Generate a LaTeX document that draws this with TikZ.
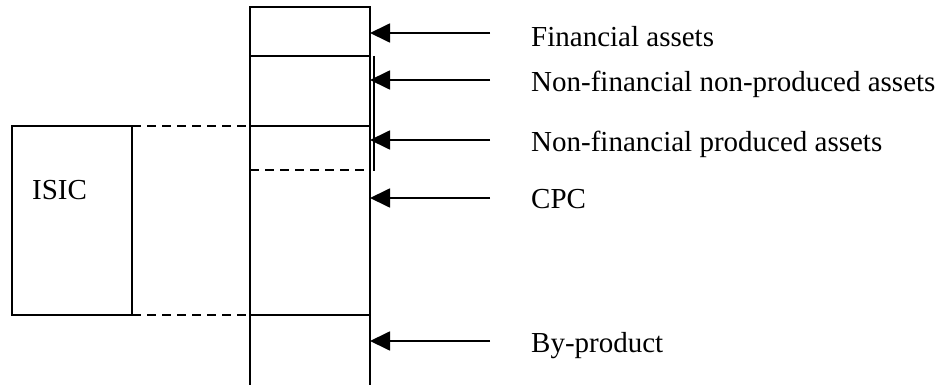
\documentclass[tikz,border=0pt]{standalone}
\usepackage{fontspec}
\setmainfont{Liberation Serif}
\usetikzlibrary{arrows.meta}
\begin{document}
\begin{tikzpicture}[x=1pt,y=-1pt,
  ln/.style={line width=1.8pt},
  dsh/.style={line width=1.8pt,dash pattern=on 9pt off 6pt},
  arr/.style={line width=1.8pt,-{Triangle[length=20pt,width=19pt]}},
  lbl/.style={anchor=base west,inner sep=0pt,font=\fontsize{29}{34}\selectfont}]
\useasboundingbox (0,0) rectangle (938,385);
% column
\coordinate (ctl) at (250,7);
\coordinate (ctr) at (370,7);
\coordinate (cbl) at (250,386);
\coordinate (cbr) at (370,386);
\draw[ln] (cbl) -- (ctl) -- (ctr) -- (cbr);
\coordinate (l1a) at (250,56); \coordinate (l1b) at (370,56);
\coordinate (l2a) at (250,126); \coordinate (l2b) at (370,126);
\coordinate (l3a) at (250,170); \coordinate (l3b) at (370,170);
\coordinate (l4a) at (250,315); \coordinate (l4b) at (370,315);
\draw[ln] (l1a) -- (l1b);
\draw[ln] (l2a) -- (l2b);
\draw[dsh] (l3a) -- (l3b);
\draw[ln] (l4a) -- (l4b);
% bracket
\coordinate (bt) at (374,56); \coordinate (bb) at (374,171);
\draw[ln] (bt) -- (bb);
% ISIC box
\node[draw,line width=1.8pt,minimum width=120pt,minimum height=189pt,inner sep=0pt,outer sep=0pt] (isic) at (72,220.5) {};
\node[lbl] (isiclbl) at (32,200) {ISIC};
\draw[dsh] (isic.north east) -- (l2a);
\draw[dsh] (isic.south east) -- (l4a);
% arrows
\coordinate (a1s) at (490,33);  \coordinate (a1e) at (370,33);
\coordinate (a2s) at (490,80);  \coordinate (a2e) at (370,80);
\coordinate (a3s) at (490,140); \coordinate (a3e) at (370,140);
\coordinate (a4s) at (490,198); \coordinate (a4e) at (370,198);
\coordinate (a5s) at (490,341); \coordinate (a5e) at (370,341);
\draw[arr] (a1s) -- (a1e);
\draw[arr] (a2s) -- (a2e);
\draw[arr] (a3s) -- (a3e);
\draw[arr] (a4s) -- (a4e);
\draw[arr] (a5s) -- (a5e);
% labels
\node[lbl] (t1) at (531,47) {Financial assets};
\node[lbl] (t2) at (531,92) {Non-financial non-produced assets};
\node[lbl] (t3) at (531,152) {Non-financial produced assets};
\node[lbl] (t4) at (531,209) {CPC};
\node[lbl] (t5) at (531,352) {By-product};
\end{tikzpicture}
\end{document}
